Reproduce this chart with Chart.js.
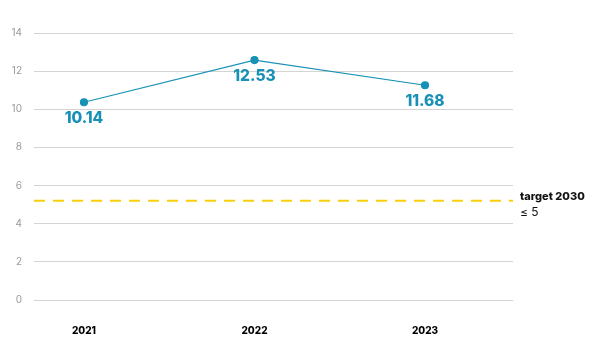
<!DOCTYPE html>
<html>
<head>
<meta charset="utf-8">
<script src="https://cdn.jsdelivr.net/npm/chart.js@4"></script>
<style>
  html, body { margin: 0; padding: 0; background: #fff; }
  #wrap { width: 600px; height: 350px; }
</style>
</head>
<body>
<div id="wrap"><canvas id="chart"></canvas></div>
<script>
const years = [2021, 2022, 2023];
const values = [10.37, 12.58, 11.26];
const valueLabels = ["10.14", "12.53", "11.68"];
const yTicks = [0, 2, 4, 6, 8, 10, 12, 14];
const targetValue = 5.2;
const targetText = ["target 2030", "≤ 5"];

const blue = "#1791b5";
const ctx = document.getElementById("chart").getContext("2d");

// value labels under the points + dashed target line with its note
const overlay = {
    id: "overlay",
    beforeDatasetsDraw(chart) {
        const { ctx, chartArea, scales } = chart;
        const y = scales.y.getPixelForValue(targetValue);
        ctx.save();
        ctx.strokeStyle = "#f7cf0a";
        ctx.lineWidth = 2;
        ctx.setLineDash([11, 8]);
        ctx.beginPath();
        ctx.moveTo(chartArea.left, y);
        ctx.lineTo(chartArea.right, y);
        ctx.stroke();
        ctx.restore();
    },
    afterDatasetsDraw(chart) {
        const { ctx, chartArea, scales } = chart;
        const meta = chart.getDatasetMeta(0);
        ctx.save();
        ctx.fillStyle = blue;
        ctx.font = "800 15.5px Inter, 'Noto Sans', sans-serif";
        ctx.textAlign = "center";
        ctx.textBaseline = "middle";
        meta.data.forEach((pt, i) => {
            ctx.fillText(valueLabels[i], pt.x, pt.y + 16);
        });

        const y = scales.y.getPixelForValue(targetValue);
        ctx.fillStyle = "#111";
        ctx.textAlign = "left";
        ctx.font = "800 11px Inter, 'Noto Sans', sans-serif";
        ctx.fillText(targetText[0], chartArea.right + 7, y - 4);
        ctx.font = "12px Inter, 'Noto Sans', sans-serif";
        ctx.fillText(targetText[1], chartArea.right + 7, y + 12);
        ctx.restore();
    }
};

new Chart(ctx, {
    type: "line",
    data: {
        datasets: [{
            data: years.map((yr, i) => ({ x: yr, y: values[i] })),
            borderColor: blue,
            backgroundColor: blue,
            borderWidth: 1.2,
            pointRadius: 3.5,
            pointHoverRadius: 3.5,
            tension: 0
        }]
    },
    options: {
        responsive: true,
        maintainAspectRatio: false,
        animation: false,
        layout: { padding: { top: 33, right: 87, bottom: 0, left: 0 } },
        plugins: {
            legend: { display: false },
            tooltip: { enabled: false }
        },
        scales: {
            x: {
                type: "linear",
                min: 2020.707,
                max: 2023.516,
                afterBuildTicks: scale => {
                    scale.ticks = years.map(v => ({ value: v }));
                },
                afterFit: scale => { scale.height = 50; },
                grid: { display: false },
                border: { display: false },
                ticks: {
                    padding: 17,
                    color: "#000",
                    font: { family: "Inter, 'Noto Sans', sans-serif", size: 10, weight: "800" },
                    callback: v => String(v)
                }
            },
            y: {
                min: 0,
                max: 14,
                afterBuildTicks: scale => {
                    scale.ticks = yTicks.map(v => ({ value: v }));
                },
                afterFit: scale => { scale.width = 34; },
                grid: { color: "#d4d4d4", drawTicks: false, lineWidth: 1 },
                border: { display: false },
                ticks: {
                    padding: 12,
                    color: "#9a9a9a",
                    font: { family: "Inter, 'Noto Sans', sans-serif", size: 10 }
                }
            }
        }
    },
    plugins: [overlay]
});
</script>
</body>
</html>
